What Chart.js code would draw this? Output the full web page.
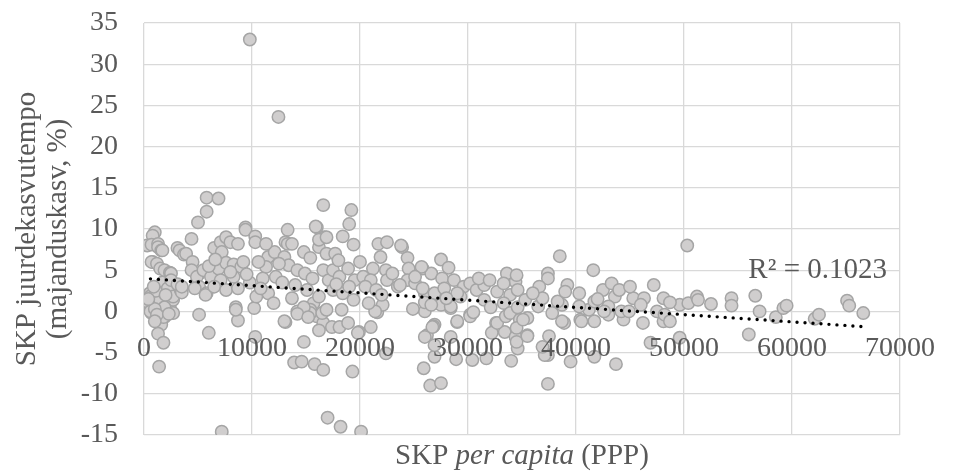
<!DOCTYPE html>
<html><head><meta charset="utf-8">
<script src="https://cdn.jsdelivr.net/npm/chart.js@4"></script>
<style>html,body{margin:0;padding:0;background:#fff}#wrap{width:955px;height:472px}</style>
</head><body><div id="wrap"><canvas id="c" width="955" height="472"></canvas></div>
<script>
// SKP per capita (PPP) values
const gdpPerCapita = [
 1000,800,300,700,1300,1300,1600,1700,800,700,1200,1500,1900,2400,2500,1700,2200,2200,1500,800,1700,2400,1500,1900,1700,2700,2500,550,400,550,700,1500,1900,2700,2700,3400,1600,1800,1300,1800,1400,550,300,600,1000,1100,400,900,1200,2000,2300,1000,3100,
 3100,3300,3700,3900,4400,3500,3500,5000,4500,5100,4400,4900,5500,6200,5100,5800,5700,5100,6000,6500,7100,7600,8000,8700,7200,6900,7600,8300,9000,9400,8300,7100,6500,7600,8700,9800,8500,8700,8500,5800,6900,5800,9800,7200,10300,10200,9400,6000,6600,9200,4700,8000,9500,
 10300,10300,10400,11500,11500,12100,11300,11300,12200,12800,13300,13100,13300,13700,13000,13400,14200,13700,13100,14800,15400,14900,15100,15700,16000,16600,16700,16200,16900,16600,17100,16200,15400,16000,16600,15400,14200,14800,12450,15900,16200,13000,14200,14800,13900,14600,15800,16600,16200,15200,16500,11000,10800,12000,14000,15600,12500,10600,
 17400,17500,18100,18900,19500,20300,21200,21000,22400,22500,23500,17500,18400,19400,20500,21500,16900,18100,21600,22100,21000,19200,19000,18400,19400,21700,22500,23900,16900,17700,18900,19900,19800,21400,22400,18300,19300,17000,18200,20100,21900,23800,18000,20000,19000,22000,23000,20800,17800,
 24400,24500,27500,28200,33600,34400,26000,26900,26200,28400,29000,30200,32600,33400,34400,26800,26900,25900,26500,27500,28900,30400,31700,34000,34600,28400,29000,30200,32200,32700,33500,24400,25100,25800,26600,26000,26900,27600,27800,28700,29600,30200,30800,31500,32700,33300,33900,34600,27500,28400,29300,30500,31500,32100,33300,33900,34600,25700,25100,23700,25800,26000,26600,26700,26000,26900,24900,34500,34800,34500,34500,29000,31000,28000,32000,
 38500,41600,37400,37400,36600,39200,40300,42500,43300,43600,45300,46300,47200,48100,49600,35500,37800,38900,40400,41700,43000,44400,46200,48100,36500,38700,41200,43000,44200,35500,37400,39500,37400,41700,43700,46900,49600,35300,36900,38300,40300,41700,42600,44900,46000,47500,48200,35500,37500,37100,35100,38700,40500,36900,48700,48700,36000,39000,44000,45000,42000,
 50300,50400,51200,51300,52500,54400,54400,56600,57000,56000,58500,59200,59500,62100,62500,65100,65300,66600
];
// SKP juurdekasvutempo (%)
const growthRate = [
 9.6,9.2,8.0,8.1,8.2,7.8,7.4,7.4,6.0,6.0,5.8,5.2,5.0,4.7,4.6,3.5,2.6,2.8,1.6,1.0,0.5,0.5,-0.7,-0.7,-0.7,1.4,3.8,2.2,0.5,1.8,-0.2,1.4,0.5,-0.2,1.8,2.6,-1.6,-0.7,-2.7,-3.8,-6.7,0.5,1.2,0.0,0.3,2.5,1.5,3.0,-0.4,2.0,-0.3,-1.2,3.3,
 7.7,7.4,6.9,7.0,8.8,2.3,3.0,10.8,6.0,4.6,5.0,4.2,5.0,4.2,3.0,2.2,2.0,-0.4,-2.6,7.7,8.4,9.0,8.4,8.2,7.2,5.2,5.9,5.7,5.4,10.2,4.2,3.8,3.0,2.6,2.8,3.5,0.5,-1.1,0.2,13.8,13.7,12.1,33.0,-14.6,-3.1,0.4,9.9,5.5,6.3,6.0,2.8,4.8,4.5,
 9.1,8.4,1.8,2.2,6.6,7.2,8.2,5.4,4.2,3.5,9.9,8.4,8.2,8.2,6.6,5.6,5.0,1.6,-1.3,7.2,6.5,4.6,2.6,1.0,10.2,12.9,9.0,7.8,7.0,5.0,3.8,1.8,0.2,-0.6,-1.4,-0.2,0.0,0.5,23.6,10.3,8.7,-1.2,-0.3,-3.7,-6.2,-6.1,-6.4,-7.1,-2.3,-0.7,-0.2,4.0,2.8,1.0,3.2,4.0,5.8,6.0,
 -1.9,5.0,4.2,5.2,3.8,4.2,5.2,3.8,5.0,3.8,3.0,2.6,2.2,1.4,3.0,2.6,0.2,-1.9,-0.1,0.8,-1.9,12.3,10.6,9.1,8.1,8.2,8.4,7.8,9.0,7.0,-1.4,-2.5,-2.6,0.0,-5.1,0.2,-7.3,-12.9,-14.0,-14.6,6.6,8.0,6.2,6.0,3.0,2.0,4.6,1.0,3.3,
 6.5,5.2,6.3,5.3,4.6,3.6,0.0,-1.6,-2.9,0.4,-1.3,-0.4,-1.4,-2.5,-3.1,-1.8,-5.5,-6.9,-9.0,-8.7,-5.8,-5.9,-5.7,-6.0,-4.5,-3.1,-1.2,-0.6,-2.6,-1.4,-0.6,3.8,3.4,5.2,4.6,2.2,2.2,4.0,2.8,3.8,3.0,3.4,2.6,3.2,2.4,3.4,2.0,2.6,0.8,0.6,1.8,-0.1,1.4,0.5,1.0,-0.2,0.5,5.4,4.2,3.2,2.8,1.1,0.8,-1.9,-3.1,-4.1,0.3,4.4,-1.0,-2.0,-3.7,2.2,4.0,1.6,3.8,
 6.7,5.0,4.6,4.0,3.0,3.2,2.2,2.6,3.4,1.8,1.6,1.6,3.2,1.6,0.8,-0.8,-0.2,-1.4,-1.0,-1.2,-0.4,-1.0,-1.4,-1.2,0.6,0.8,0.2,0.6,0.0,-2.9,-5.3,-6.1,-8.8,-5.5,-6.4,-3.8,-3.2,1.4,1.6,1.2,0.6,1.2,0.0,0.0,0.8,0.0,-0.4,-3.0,-3.0,-5.3,-1.0,-1.2,-1.2,-4.3,1.1,-1.2,2.2,2.4,2.6,3.0,1.5,
 8.0,1.0,1.8,1.4,0.9,1.6,0.7,1.9,0.0,-2.8,-0.7,0.4,0.7,-0.9,-0.4,1.3,0.7,-0.2
];
// linear trendline end points
const trendX = [600, 66600];
const trendY = [3.95, -1.85];
const xTicks = [0, 10000, 20000, 30000, 40000, 50000, 60000, 70000];
const yTicks = [-15, -10, -5, 0, 5, 10, 15, 20, 25, 30, 35];
const xTitleParts = [["SKP ", "normal"], ["per capita", "italic"], [" (PPP)", "normal"]];
const yTitleLines = ["SKP juurdekasvutempo", "(majanduskasv, %)"];
const r2Label = "R² = 0.1023";

const FONT = "'Liberation Serif', 'Times New Roman', serif";
const TXT = '#595959';
const FS = 28;
const FT = 29;

const points = gdpPerCapita.map((x, i) => ({x: x, y: growthRate[i]}));
const trend = trendX.map((x, i) => ({x: x, y: trendY[i]}));

const textPlugin = {
  id: 'texts',
  afterDraw(chart) {
    const ctx = chart.ctx, ca = chart.chartArea;
    ctx.save();
    ctx.fillStyle = TXT;
    ctx.textBaseline = 'alphabetic';
    let total = 0;
    const widths = xTitleParts.map(p => {
      ctx.font = (p[1] === 'italic' ? 'italic ' : '') + FT + 'px ' + FONT;
      const w = ctx.measureText(p[0]).width; total += w; return w;
    });
    let x = (ca.left + ca.right) / 2 - total / 2;
    xTitleParts.forEach((p, i) => {
      ctx.font = (p[1] === 'italic' ? 'italic ' : '') + FT + 'px ' + FONT;
      ctx.textAlign = 'left';
      ctx.fillText(p[0], x, 464);
      x += widths[i];
    });
    ctx.font = FT + 'px ' + FONT;
    ctx.textAlign = 'right';
    ctx.textBaseline = 'middle';
    ctx.fillText(r2Label, ca.right - 13, 270);
    ctx.restore();
  }
};

new Chart(document.getElementById('c'), {
  type: 'scatter',
  data: {
    datasets: [
      {
        label: 'trend',
        data: trend,
        showLine: true,
        borderColor: '#000000',
        borderWidth: 3.4,
        borderDash: [0, 8],
        borderCapStyle: 'round',
        pointRadius: 0,
        fill: false,
        order: 0
      },
      {
        label: 'SKP',
        data: points,
        pointRadius: 6.2,
        pointBorderWidth: 1.5,
        pointBackgroundColor: '#D0CECE',
        pointBorderColor: '#A5A5A5',
        order: 1
      }
    ]
  },
  options: {
    responsive: false,
    animation: false,
    devicePixelRatio: 1,
    layout: {padding: {left: 0, right: 43, top: 23, bottom: 37}},
    plugins: {legend: {display: false}, tooltip: {enabled: false}},
    scales: {
      x: {
        type: 'linear',
        position: {y: 0},
        min: 0, max: 70000,
        afterBuildTicks: s => { s.ticks = xTicks.map(v => ({value: v})); },
        afterFit: s => { s.height = 0; },
        grid: {color: '#D9D9D9', lineWidth: 1.3, drawTicks: false},
        border: {display: false},
        ticks: {z: 1, color: TXT, font: {family: FONT, size: FS}, padding: 20, maxRotation: 0, autoSkip: false,
          callback: v => String(v)}
      },
      y: {
        type: 'linear',
        min: -15, max: 35,
        afterBuildTicks: s => { s.ticks = yTicks.map(v => ({value: v})); },
        afterFit: s => { s.width = 144; s.paddingTop = 0; s.paddingBottom = 0; },
        grid: {color: '#D9D9D9', lineWidth: 1.3, drawTicks: false},
        border: {display: false},
        ticks: {color: TXT, font: {family: FONT, size: FS}, padding: 26, callback: v => String(v)},
        title: {display: true, text: yTitleLines, color: TXT, font: {family: FONT, size: FT, lineHeight: 1.07}, padding: {top: 12, bottom: 0}}
      }
    }
  },
  plugins: [textPlugin]
});
</script>
</body></html>
